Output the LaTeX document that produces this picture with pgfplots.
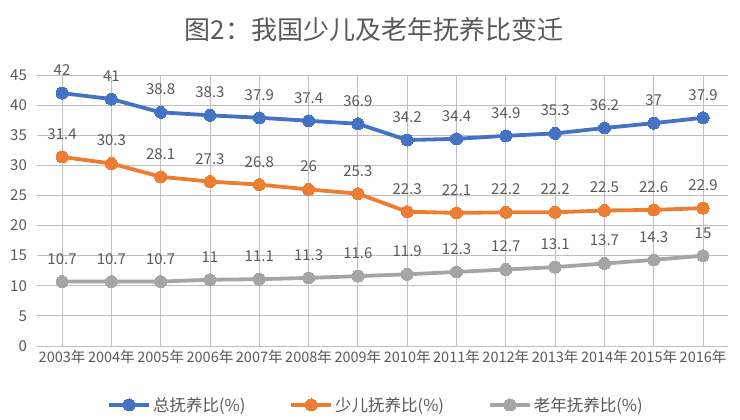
\documentclass[border=0pt]{standalone}
\usepackage{fontspec}
\setmainfont{Noto Sans CJK SC}
\usepackage{pgfplots}
\pgfplotsset{compat=1.18}
\usetikzlibrary{calc}

\definecolor{sblue}{HTML}{4472C4}
\definecolor{sorange}{HTML}{ED7D31}
\definecolor{sgray}{HTML}{A5A5A5}
\definecolor{txt}{HTML}{595959}
\definecolor{grid}{HTML}{D9D9D9}

\begin{document}
\begin{tikzpicture}
\begin{axis}[
  name=ax,
  scale only axis,
  width=690.3pt, height=271pt,
  xmin=-0.5, xmax=13.5,
  ymin=0, ymax=45,
  ytick={0,5,...,45},
  xtick={0,...,13},
  xticklabels={2003年,2004年,2005年,2006年,2007年,2008年,2009年,2010年,2011年,2012年,2013年,2014年,2015年,2016年},
  axis line style={draw=none},
  major tick length=0pt,
  ymajorgrids, grid style={grid, line width=0.8pt},
  tick label style={text=txt},
  xticklabel style={font=\fontsize{14.5}{15}\selectfont, inner xsep=0pt, yshift=-1pt},
  yticklabel style={font=\fontsize{15}{16}\selectfont, xshift=-7pt},
  /pgf/number format/assume math mode=true,
  /pgf/number format/fixed, /pgf/number format/precision=1,
  nodes near coords,
  every node near coord/.style={font=\fontsize{15}{16}\selectfont, text=txt, anchor=south, yshift=14pt},
  legend columns=3,
  legend style={at={(0.4905,-0.2177)}, anchor=center, draw=none, fill=none,
    font=\fontsize{16.5}{17}\selectfont, text=txt,
    /tikz/every even column/.append style={column sep=42pt}},
  legend image code/.code={\draw[mark repeat=2,mark phase=2,#1] plot coordinates {(0pt,0pt)(20pt,0pt)(40pt,0pt)};},
  every axis plot/.append style={line width=3.8pt, mark=*, mark size=6pt},
]
\addplot[sblue, mark options={fill=sblue, draw=sblue, line width=0pt}] coordinates {
(0,42) (1,41) (2,38.8) (3,38.3) (4,37.9) (5,37.4) (6,36.9) (7,34.2) (8,34.4) (9,34.9) (10,35.3) (11,36.2) (12,37) (13,37.9)};
\addlegendentry{总抚养比(\%)}
\addplot[sorange, mark options={fill=sorange, draw=sorange, line width=0pt}] coordinates {
(0,31.4) (1,30.3) (2,28.1) (3,27.3) (4,26.8) (5,26) (6,25.3) (7,22.3) (8,22.1) (9,22.2) (10,22.2) (11,22.5) (12,22.6) (13,22.9)};
\addlegendentry{少儿抚养比(\%)}
\addplot[sgray, mark options={fill=sgray, draw=sgray, line width=0pt}] coordinates {
(0,10.7) (1,10.7) (2,10.7) (3,11) (4,11.1) (5,11.3) (6,11.6) (7,11.9) (8,12.3) (9,12.7) (10,13.1) (11,13.7) (12,14.3) (13,15)};
\addlegendentry{老年抚养比(\%)}
\end{axis}
\node[font=\fontsize{26}{28}\selectfont, text=txt] at ($(ax.south west)+(336.6pt,316pt)$) {图2：我国少儿及老年抚养比变迁};
\pgfresetboundingbox
\path (ax.south west) ++(-37.4pt,-74pt) rectangle ++(740pt,420pt);
\end{tikzpicture}
\end{document}
